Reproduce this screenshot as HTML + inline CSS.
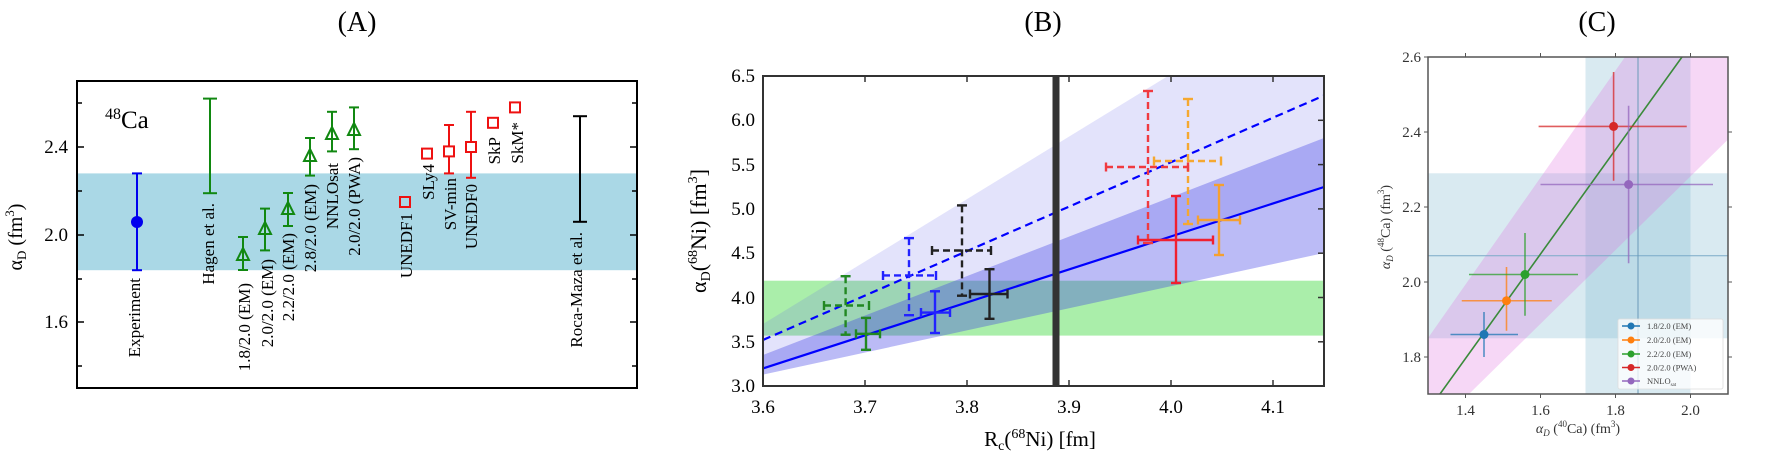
<!DOCTYPE html>
<html><head><meta charset="utf-8"><style>
html,body{margin:0;padding:0;background:#fff;}
svg{display:block;}
.serif{font-family:"Liberation Serif",serif;}
.dv{font-family:"DejaVu Sans","Liberation Sans",sans-serif;}
</style></head><body>
<svg width="1772" height="457" viewBox="0 0 1772 457" xmlns="http://www.w3.org/2000/svg">
<!-- Titles -->
<g class="serif" font-size="28" text-anchor="middle" fill="#000">
<text x="357" y="31">(A)</text>
<text x="1043" y="31">(B)</text>
<text x="1597" y="31">(C)</text>
</g>

<!-- ===== Panel A ===== -->
<rect x="77" y="173.4" width="560" height="96.8" fill="#aad8e6"/>
<rect x="77" y="81" width="560" height="307" fill="none" stroke="#000" stroke-width="2"/>
<g stroke="#000" stroke-width="1.5">
<line x1="77" y1="103" x2="82" y2="103"/><line x1="77" y1="147" x2="84" y2="147"/><line x1="77" y1="191" x2="82" y2="191"/>
<line x1="77" y1="235" x2="84" y2="235"/><line x1="77" y1="279" x2="82" y2="279"/><line x1="77" y1="322" x2="84" y2="322"/><line x1="77" y1="366" x2="82" y2="366"/>
<line x1="637" y1="103" x2="632" y2="103"/><line x1="637" y1="147" x2="630" y2="147"/><line x1="637" y1="191" x2="632" y2="191"/>
<line x1="637" y1="235" x2="630" y2="235"/><line x1="637" y1="279" x2="632" y2="279"/><line x1="637" y1="322" x2="630" y2="322"/><line x1="637" y1="366" x2="632" y2="366"/>
</g>
<g class="serif" font-size="19" text-anchor="end">
<text x="68" y="153">2.4</text><text x="68" y="241">2.0</text><text x="68" y="328">1.6</text>
</g>
<text class="serif" font-size="20" transform="translate(22,237) rotate(-90)" text-anchor="middle">α<tspan font-size="13" dy="4">D</tspan><tspan dy="-4"> (fm</tspan><tspan font-size="13" dy="-8">3</tspan><tspan dy="8">)</tspan></text>
<text class="serif" font-size="25" x="105" y="128"><tspan font-size="16" dy="-9">48</tspan><tspan dy="9">Ca</tspan></text>
<!-- experiment -->
<g stroke="#0000ee" stroke-width="2"><line x1="137" y1="173.4" x2="137" y2="270.2"/><line x1="132" y1="173.4" x2="142" y2="173.4"/><line x1="132" y1="270.2" x2="142" y2="270.2"/></g>
<circle cx="137" cy="222" r="6" fill="#0000ee"/>
<!-- green -->
<g stroke="#118811" stroke-width="2" fill="none">
<line x1="210" y1="98.6" x2="210" y2="193.2"/><line x1="203" y1="98.6" x2="217" y2="98.6"/><line x1="203" y1="193.2" x2="217" y2="193.2"/>
<line x1="243" y1="237" x2="243" y2="270"/><line x1="238" y1="237" x2="248" y2="237"/><line x1="238" y1="270" x2="248" y2="270"/><path d="M243,248 L249,260 L237,260 Z"/>
<line x1="265" y1="208.6" x2="265" y2="250.4"/><line x1="260" y1="208.6" x2="270" y2="208.6"/><line x1="260" y1="250.4" x2="270" y2="250.4"/><path d="M265,222 L271,234 L259,234 Z"/>
<line x1="288" y1="193" x2="288" y2="226"/><line x1="283" y1="193" x2="293" y2="193"/><line x1="283" y1="226" x2="293" y2="226"/><path d="M288,202 L294,214 L282,214 Z"/>
<line x1="310" y1="138" x2="310" y2="175.6"/><line x1="305" y1="138" x2="315" y2="138"/><line x1="305" y1="175.6" x2="315" y2="175.6"/><path d="M310,149 L316,161 L304,161 Z"/>
<line x1="332" y1="111.8" x2="332" y2="151.4"/><line x1="327" y1="111.8" x2="337" y2="111.8"/><line x1="327" y1="151.4" x2="337" y2="151.4"/><path d="M332,127 L338,139 L326,139 Z"/>
<line x1="354" y1="107.4" x2="354" y2="149.2"/><line x1="349" y1="107.4" x2="359" y2="107.4"/><line x1="349" y1="149.2" x2="359" y2="149.2"/><path d="M354,123 L360,135 L348,135 Z"/>
</g>
<!-- red -->
<g stroke="#ee1111" stroke-width="2" fill="none">
<rect x="400" y="197" width="10" height="10"/>
<rect x="422" y="148.6" width="10" height="10"/>
<line x1="449" y1="125" x2="449" y2="173.4"/><line x1="444" y1="125" x2="454" y2="125"/><line x1="444" y1="173.4" x2="454" y2="173.4"/>
<rect x="444" y="146.4" width="10" height="10" fill="#fff"/>
<line x1="471" y1="111.8" x2="471" y2="177.8"/><line x1="466" y1="111.8" x2="476" y2="111.8"/><line x1="466" y1="177.8" x2="476" y2="177.8"/>
<rect x="466" y="142" width="10" height="10" fill="#fff"/>
<rect x="488" y="117.8" width="10" height="10"/>
<rect x="510" y="102.4" width="10" height="10"/>
</g>
<g stroke="#000" stroke-width="2"><line x1="580" y1="116.2" x2="580" y2="221.8"/><line x1="573" y1="116.2" x2="587" y2="116.2"/><line x1="573" y1="221.8" x2="587" y2="221.8"/></g>
<g class="serif" font-size="17" text-anchor="end">
<text transform="translate(140,278) rotate(-90)">Experiment</text>
<text transform="translate(214,203) rotate(-90)">Hagen et al.</text>
<text transform="translate(250,283) rotate(-90)">1.8/2.0 (EM)</text>
<text transform="translate(273,259) rotate(-90)">2.0/2.0 (EM)</text>
<text transform="translate(294,233) rotate(-90)">2.2/2.0 (EM)</text>
<text transform="translate(316,184) rotate(-90)">2.8/2.0 (EM)</text>
<text transform="translate(338,163) rotate(-90)">NNLOsat</text>
<text transform="translate(360,157) rotate(-90)">2.0/2.0 (PWA)</text>
<text transform="translate(412,213) rotate(-90)">UNEDF1</text>
<text transform="translate(434,164) rotate(-90)">SLy4</text>
<text transform="translate(456,178) rotate(-90)">SV-min</text>
<text transform="translate(477,184) rotate(-90)">UNEDF0</text>
<text transform="translate(500,137) rotate(-90)">SkP</text>
<text transform="translate(523,122) rotate(-90)">SkM*</text>
<text transform="translate(582,232) rotate(-90)">Roca-Maza et al.</text>
</g>

<!-- ===== Panel B ===== -->
<defs><clipPath id="cb"><rect x="763" y="76" width="561" height="310"/></clipPath>
<clipPath id="cc"><rect x="1428" y="57" width="300" height="337"/></clipPath></defs>
<g clip-path="url(#cb)">
<rect x="763" y="280.7" width="561" height="54.9" fill="#aaeeaa"/>
<polygon points="763,324 1168,76 1324,76 1324,187 763,368.4" fill="rgb(100,100,235)" fill-opacity="0.18"/>
<polygon points="763,355 1324,138 1324,253 763,374.6" fill="rgb(60,60,230)" fill-opacity="0.35"/>
<line x1="763" y1="368.4" x2="1324" y2="187" stroke="#0000ff" stroke-width="2.2"/>
<line x1="763" y1="340" x2="1324" y2="95.5" stroke="#0000ff" stroke-width="2.2" stroke-dasharray="8,5"/>
<rect x="1052.5" y="76" width="7" height="310" fill="#333"/>
<g stroke-width="2.4" fill="none">
<g stroke="#222" stroke-dasharray="7,4"><line x1="962" y1="205.4" x2="962" y2="295.7"/><line x1="932" y1="250.5" x2="991" y2="250.5"/></g>
<g stroke="#222"><line x1="957" y1="205.4" x2="967" y2="205.4"/><line x1="957" y1="295.7" x2="967" y2="295.7"/><line x1="932" y1="246" x2="932" y2="255"/><line x1="991" y1="246" x2="991" y2="255"/></g>
<g stroke="#2222ff" stroke-dasharray="7,4"><line x1="909" y1="238.1" x2="909" y2="315.2"/><line x1="883" y1="275.4" x2="936" y2="275.4"/></g>
<g stroke="#2222ff"><line x1="904" y1="238.1" x2="914" y2="238.1"/><line x1="904" y1="315.2" x2="914" y2="315.2"/><line x1="883" y1="271" x2="883" y2="280"/><line x1="936" y1="271" x2="936" y2="280"/></g>
<g stroke="#228822" stroke-dasharray="7,4"><line x1="845.6" y1="276.2" x2="845.6" y2="334.7"/><line x1="824" y1="305.5" x2="869" y2="305.5"/></g>
<g stroke="#228822"><line x1="840.6" y1="276.2" x2="850.6" y2="276.2"/><line x1="840.6" y1="334.7" x2="850.6" y2="334.7"/><line x1="824" y1="301" x2="824" y2="310"/><line x1="869" y1="301" x2="869" y2="310"/></g>
<g stroke="#f5a830" stroke-dasharray="7,4"><line x1="1188" y1="99" x2="1188" y2="224"/><line x1="1154" y1="161" x2="1221" y2="161"/></g>
<g stroke="#f5a830"><line x1="1183" y1="99" x2="1193" y2="99"/><line x1="1183" y1="224" x2="1193" y2="224"/><line x1="1154" y1="156.5" x2="1154" y2="165.5"/><line x1="1221" y1="156.5" x2="1221" y2="165.5"/></g>
<g stroke="#f03a40" stroke-dasharray="7,4"><line x1="1148" y1="91" x2="1148" y2="243"/><line x1="1106" y1="167" x2="1188" y2="167"/></g>
<g stroke="#f03a40"><line x1="1143" y1="91" x2="1153" y2="91"/><line x1="1143" y1="243" x2="1153" y2="243"/><line x1="1106" y1="162.5" x2="1106" y2="171.5"/><line x1="1188" y1="162.5" x2="1188" y2="171.5"/></g>
<!-- solid -->
<g stroke="#228822"><line x1="866" y1="317.9" x2="866" y2="349.8"/><line x1="856" y1="333.8" x2="880" y2="333.8"/><line x1="861" y1="317.9" x2="871" y2="317.9"/><line x1="861" y1="349.8" x2="871" y2="349.8"/><line x1="856" y1="329.3" x2="856" y2="338.3"/><line x1="880" y1="329.3" x2="880" y2="338.3"/></g>
<g stroke="#2222ff"><line x1="935" y1="291.3" x2="935" y2="333"/><line x1="921" y1="312.6" x2="950" y2="312.6"/><line x1="930" y1="291.3" x2="940" y2="291.3"/><line x1="930" y1="333" x2="940" y2="333"/><line x1="921" y1="308" x2="921" y2="317"/><line x1="950" y1="308" x2="950" y2="317"/></g>
<g stroke="#222"><line x1="989.5" y1="269.2" x2="989.5" y2="318.8"/><line x1="970" y1="294" x2="1007.5" y2="294"/><line x1="984.5" y1="269.2" x2="994.5" y2="269.2"/><line x1="984.5" y1="318.8" x2="994.5" y2="318.8"/><line x1="970" y1="289.5" x2="970" y2="298.5"/><line x1="1007.5" y1="289.5" x2="1007.5" y2="298.5"/></g>
<g stroke="#f5a030"><line x1="1219" y1="185" x2="1219" y2="255"/><line x1="1198" y1="220" x2="1240" y2="220"/><line x1="1214" y1="185" x2="1224" y2="185"/><line x1="1214" y1="255" x2="1224" y2="255"/><line x1="1198" y1="215.5" x2="1198" y2="224.5"/><line x1="1240" y1="215.5" x2="1240" y2="224.5"/></g>
<g stroke="#f02030"><line x1="1176" y1="196" x2="1176" y2="283"/><line x1="1138" y1="240" x2="1213" y2="240"/><line x1="1171" y1="196" x2="1181" y2="196"/><line x1="1171" y1="283" x2="1181" y2="283"/><line x1="1138" y1="235.5" x2="1138" y2="244.5"/><line x1="1213" y1="235.5" x2="1213" y2="244.5"/></g>
</g>
</g>
<rect x="763" y="76" width="561" height="310" fill="none" stroke="#333" stroke-width="2"/>
<g stroke="#333" stroke-width="1.5">
<line x1="865" y1="76" x2="865" y2="82"/><line x1="967" y1="76" x2="967" y2="82"/><line x1="1069" y1="76" x2="1069" y2="82"/><line x1="1171" y1="76" x2="1171" y2="82"/><line x1="1273" y1="76" x2="1273" y2="82"/>
<line x1="865" y1="386" x2="865" y2="380"/><line x1="967" y1="386" x2="967" y2="380"/><line x1="1069" y1="386" x2="1069" y2="380"/><line x1="1171" y1="386" x2="1171" y2="380"/><line x1="1273" y1="386" x2="1273" y2="380"/>
<line x1="1324" y1="120.3" x2="1318" y2="120.3"/><line x1="1324" y1="164.6" x2="1318" y2="164.6"/><line x1="1324" y1="208.9" x2="1318" y2="208.9"/><line x1="1324" y1="253.2" x2="1318" y2="253.2"/><line x1="1324" y1="297.5" x2="1318" y2="297.5"/><line x1="1324" y1="341.8" x2="1318" y2="341.8"/>
</g>
<g class="serif" font-size="19" text-anchor="end">
<text x="755" y="82">6.5</text><text x="755" y="126">6.0</text><text x="755" y="171">5.5</text><text x="755" y="215">5.0</text>
<text x="755" y="259">4.5</text><text x="755" y="304">4.0</text><text x="755" y="348">3.5</text><text x="755" y="392">3.0</text>
</g>
<g class="serif" font-size="19" text-anchor="middle">
<text x="763" y="413">3.6</text><text x="865" y="413">3.7</text><text x="967" y="413">3.8</text><text x="1069" y="413">3.9</text><text x="1171" y="413">4.0</text><text x="1273" y="413">4.1</text>
</g>
<text class="serif" font-size="21" x="1040" y="446" text-anchor="middle">R<tspan font-size="14" dy="4">c</tspan><tspan dy="-4">(</tspan><tspan font-size="14" dy="-8">68</tspan><tspan dy="8">Ni) [fm]</tspan></text>
<text class="serif" font-size="22" transform="translate(706,231) rotate(-90)" text-anchor="middle">α<tspan font-size="14" dy="4">D</tspan><tspan dy="-4">(</tspan><tspan font-size="14" dy="-9">68</tspan><tspan dy="9">Ni) [fm</tspan><tspan font-size="14" dy="-9">3</tspan><tspan dy="9">]</tspan></text>

<!-- ===== Panel C ===== -->
<g clip-path="url(#cc)">
<rect x="1428" y="173.3" width="300" height="165" fill="rgb(120,180,205)" fill-opacity="0.28"/>
<rect x="1585.5" y="57" width="105" height="337" fill="rgb(120,180,205)" fill-opacity="0.28"/>
<polygon points="1428,338 1625,57 1728,57 1728,139.5 1469,394 1428,394" fill="#e070e0" fill-opacity="0.28"/>
<line x1="1428" y1="255.8" x2="1728" y2="255.8" stroke="#7aaac8" stroke-width="1"/>
<line x1="1638" y1="57" x2="1638" y2="394" stroke="#6a9ab8" stroke-width="1"/>
<line x1="1440" y1="394" x2="1682" y2="57" stroke="#3a8a3a" stroke-width="1.6"/>
<g stroke-width="1.6" stroke-opacity="0.75">
<g stroke="#1f77b4"><line x1="1450.5" y1="334.5" x2="1518" y2="334.5"/><line x1="1484" y1="312" x2="1484" y2="357"/></g>
<g stroke="#ff7f0e"><line x1="1461.75" y1="300.75" x2="1551.75" y2="300.75"/><line x1="1506.5" y1="267" x2="1506.5" y2="330.75"/></g>
<g stroke="#2ca02c"><line x1="1469" y1="274.5" x2="1578" y2="274.5"/><line x1="1525" y1="233" x2="1525" y2="315.75"/></g>
<g stroke="#d62728"><line x1="1538.6" y1="126.4" x2="1686.75" y2="126.4"/><line x1="1613.6" y1="72" x2="1613.6" y2="180.75"/></g>
<g stroke="#9467bd"><line x1="1540.5" y1="184.5" x2="1713" y2="184.5"/><line x1="1628.6" y1="105.75" x2="1628.6" y2="263.25"/></g>
</g>
<circle cx="1484" cy="334.5" r="4.5" fill="#1f77b4"/>
<circle cx="1506.5" cy="300.75" r="4.5" fill="#ff7f0e"/>
<circle cx="1525" cy="274.5" r="4.5" fill="#2ca02c"/>
<circle cx="1613.6" cy="126.4" r="4.5" fill="#d62728"/>
<circle cx="1628.6" cy="184.5" r="4.5" fill="#9467bd"/>
<!-- legend -->
<rect x="1618" y="319" width="105" height="70" rx="2" fill="#fff" fill-opacity="0.75" stroke="#ddd" stroke-width="0.8"/>
<g stroke-width="1.5">
<line x1="1622" y1="326" x2="1640" y2="326" stroke="#1f77b4"/><circle cx="1631" cy="326" r="3.5" fill="#1f77b4"/>
<line x1="1622" y1="340" x2="1640" y2="340" stroke="#ff7f0e"/><circle cx="1631" cy="340" r="3.5" fill="#ff7f0e"/>
<line x1="1622" y1="354" x2="1640" y2="354" stroke="#2ca02c"/><circle cx="1631" cy="354" r="3.5" fill="#2ca02c"/>
<line x1="1622" y1="367.5" x2="1640" y2="367.5" stroke="#d62728"/><circle cx="1631" cy="367.5" r="3.5" fill="#d62728"/>
<line x1="1622" y1="381" x2="1640" y2="381" stroke="#9467bd"/><circle cx="1631" cy="381" r="3.5" fill="#9467bd"/>
</g>
<g class="serif" font-size="8.5" fill="#444">
<text x="1647" y="329">1.8/2.0 (EM)</text><text x="1647" y="343">2.0/2.0 (EM)</text><text x="1647" y="357">2.2/2.0 (EM)</text><text x="1647" y="370.5">2.0/2.0 (PWA)</text><text x="1647" y="384">NNLO<tspan font-size="5" dy="2">sat</tspan></text>
</g>
</g>
<rect x="1428" y="57" width="300" height="337" fill="none" stroke="#555" stroke-width="1.5"/>
<g stroke="#555" stroke-width="1">
<line x1="1465.5" y1="57" x2="1465.5" y2="53"/><line x1="1540.5" y1="57" x2="1540.5" y2="53"/><line x1="1615.5" y1="57" x2="1615.5" y2="53"/><line x1="1690.5" y1="57" x2="1690.5" y2="53"/>
<line x1="1465.5" y1="394" x2="1465.5" y2="398"/><line x1="1540.5" y1="394" x2="1540.5" y2="398"/><line x1="1615.5" y1="394" x2="1615.5" y2="398"/><line x1="1690.5" y1="394" x2="1690.5" y2="398"/>
<line x1="1428" y1="57" x2="1424" y2="57"/><line x1="1428" y1="132" x2="1424" y2="132"/><line x1="1428" y1="207" x2="1424" y2="207"/><line x1="1428" y1="282" x2="1424" y2="282"/><line x1="1428" y1="357" x2="1424" y2="357"/>
<line x1="1728" y1="132" x2="1732" y2="132"/><line x1="1728" y1="207" x2="1732" y2="207"/><line x1="1728" y1="282" x2="1732" y2="282"/><line x1="1728" y1="357" x2="1732" y2="357"/>
</g>
<g class="serif" font-size="15" fill="#333" text-anchor="end">
<text x="1421" y="62">2.6</text><text x="1421" y="137">2.4</text><text x="1421" y="212">2.2</text><text x="1421" y="287">2.0</text><text x="1421" y="362">1.8</text>
</g>
<g class="serif" font-size="15" fill="#333" text-anchor="middle">
<text x="1465.5" y="415">1.4</text><text x="1540.5" y="415">1.6</text><text x="1615.5" y="415">1.8</text><text x="1690.5" y="415">2.0</text>
</g>
<text class="serif" font-size="14" fill="#333" x="1578" y="433" text-anchor="middle"><tspan font-style="italic">α<tspan font-size="9" dy="3">D</tspan></tspan><tspan dy="-3"> (</tspan><tspan font-size="9" dy="-6">40</tspan><tspan dy="6">Ca) (fm</tspan><tspan font-size="9" dy="-6">3</tspan><tspan dy="6">)</tspan></text>
<text class="serif" font-size="14" fill="#333" transform="translate(1390,227) rotate(-90)" text-anchor="middle"><tspan font-style="italic">α<tspan font-size="9" dy="3">D</tspan></tspan><tspan dy="-3"> (</tspan><tspan font-size="9" dy="-6">48</tspan><tspan dy="6">Ca) (fm</tspan><tspan font-size="9" dy="-6">3</tspan><tspan dy="6">)</tspan></text>
</svg>
</body></html>
